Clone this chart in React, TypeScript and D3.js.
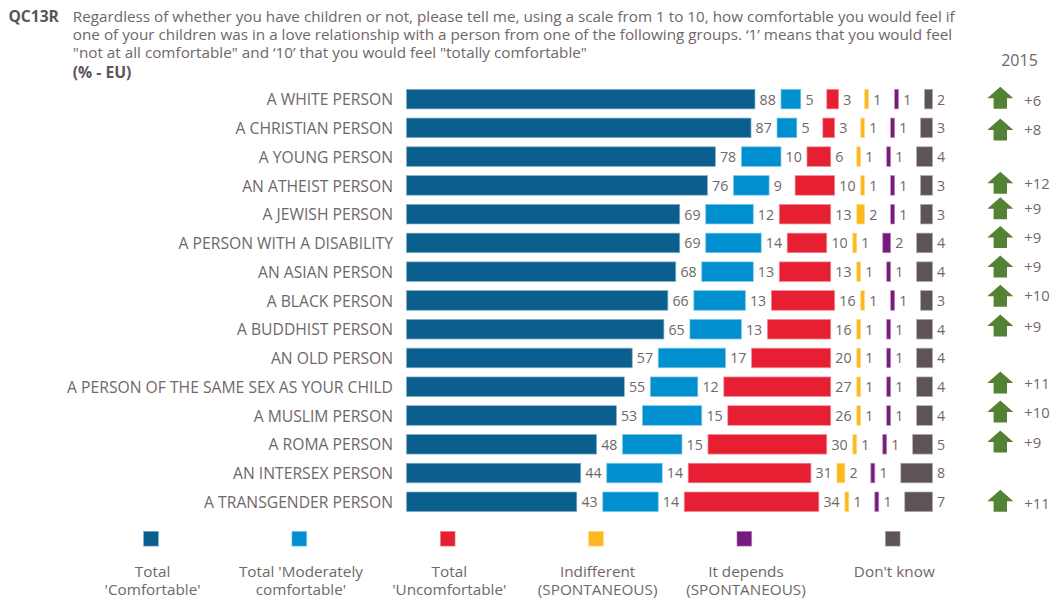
import React, { useMemo } from "react";
import * as d3 from "d3";

const categories = [
  "A WHITE PERSON", "A CHRISTIAN PERSON", "A YOUNG PERSON", "AN ATHEIST PERSON",
  "A JEWISH PERSON", "A PERSON WITH A DISABILITY", "AN ASIAN PERSON", "A BLACK PERSON",
  "A BUDDHIST PERSON", "AN OLD PERSON", "A PERSON OF THE SAME SEX AS YOUR CHILD",
  "A MUSLIM PERSON", "A ROMA PERSON", "AN INTERSEX PERSON", "A TRANSGENDER PERSON",
];
const comfortable = [88, 87, 78, 76, 69, 69, 68, 66, 65, 57, 55, 53, 48, 44, 43];
const moderately = [5, 5, 10, 9, 12, 14, 13, 13, 13, 17, 12, 15, 15, 14, 14];
const uncomfortable = [3, 3, 6, 10, 13, 10, 13, 16, 16, 20, 27, 26, 30, 31, 34];
const indifferent = [1, 1, 1, 1, 2, 1, 1, 1, 1, 1, 1, 1, 1, 2, 1];
const itDepends = [1, 1, 1, 1, 1, 2, 1, 1, 1, 1, 1, 1, 1, 1, 1];
const dontKnow = [2, 3, 4, 3, 3, 4, 4, 3, 4, 4, 4, 4, 5, 8, 7];
const change2015 = ["+6", "+8", "", "+12", "+9", "+9", "+9", "+10", "+9", "", "+11", "+10", "+9", "", "+11"];

// The trend column is set by hand in the layout, so it drifts slightly from the rows.
const arrowDrift = [-1.3, 1.6, 0, -2.6, -5.9, -5.8, -5.1, -4.6, -3.8, 0, -4.2, -3.9, -2.7, 0, -1];
const trendBaselineDrift = [7.2, 7.1, 0, 3.9, 0.1, -0.3, -0.1, 0.2, 2.4, 0, 2.4, 2.6, 3.8, 0, 7];

const seriesValues = [comfortable, moderately, uncomfortable, indifferent, itDepends, dontKnow];
const seriesColors = ["#0b5f8f", "#0090cf", "#e61f33", "#fdb81e", "#761b7c", "#5d5358"];
const legendLabels = [
  ["Total", "'Comfortable'"],
  ["Total 'Moderately", "comfortable'"],
  ["Total", "'Uncomfortable'"],
  ["Indifferent", "(SPONTANEOUS)"],
  ["It depends", "(SPONTANEOUS)"],
  ["Don't know"],
];
const questionLines = [
  "Regardless of whether you have children or not, please tell me, using a scale from 1 to 10, how comfortable you would feel if",
  "one of your children was in a love relationship with a person from one of the following groups. \u20181\u2019 means that you would feel",
  "\"not at all comfortable\" and \u201810\u2019 that you would feel \"totally comfortable\"",
];

const FONT = "'Open Sans', 'Noto Sans', sans-serif";
const INK = "#6f6769";
const GAP = 26;
const BAR_H = 19.6;

export default function App() {
  const x = useMemo(() => d3.scaleLinear().domain([0, 100]).range([0, 396]), []);
  const rowY = useMemo(
    () => d3.scaleLinear().domain([0, categories.length - 1]).range([99.1, 501.8]),
    []
  );
  const legendX = useMemo(
    () => d3.scalePoint<number>().domain(d3.range(6)).range([151, 892.7]),
    []
  );
  const x0 = 406.5;

  return (
    <svg width={1052} height={599} style={{ position: "absolute", left: 0, top: 0, background: "#fff" }} fontFamily={FONT}>
      <text x={8.4} y={22} fontSize={15.6} fontWeight={700} fill="#5d5358">QC13R</text>
      {questionLines.map((t, i) => (
        <text key={i} x={72.8} y={21.8 + i * 18.2} fontSize={15.28} fill={INK}>{t}</text>
      ))}
      <text x={72.8} y={77.5} fontSize={15.7} fontWeight={700} fill="#5d5358">(% - EU)</text>
      <text x={1019.5} y={66} fontSize={16} textAnchor="middle" fill={INK}>2015</text>

      {categories.map((c, i) => {
        let cursor = x0;
        const cy = rowY(i);
        return (
          <g key={c}>
            <text x={393} y={cy + 6.2} fontSize={15.7} textAnchor="end" fill={INK}>{c}</text>
            {seriesValues.map((vals, s) => {
              const w = x(vals[i]);
              const left = cursor;
              cursor += w + GAP;
              return (
                <g key={s}>
                  <rect
                    x={left}
                    y={cy - BAR_H / 2}
                    width={w}
                    height={BAR_H}
                    fill={seriesColors[s]}
                    stroke={d3.interpolateRgb(seriesColors[s], "#fff")(0.5)}
                    strokeWidth={0.7}
                  />
                  <text x={left + w + 4.6} y={cy + 5.4} fontSize={14.2} fill={INK}>{vals[i]}</text>
                </g>
              );
            })}
            {change2015[i] && (
              <g>
                <path
                  transform={`translate(1000.3,${cy + arrowDrift[i]})`}
                  d="M0,-11 L13,0.5 L6.7,0.5 L6.7,11 L-6.7,11 L-6.7,0.5 L-13,0.5 Z"
                  fill="#548235"
                />
                <text x={1024.3} y={cy + trendBaselineDrift[i]} fontSize={14.8} fill={INK}>{change2015[i]}</text>
              </g>
            )}
          </g>
        );
      })}

      {legendLabels.map((lines, i) => {
        const cx = legendX(i)!;
        return (
          <g key={i}>
            <rect
              x={cx - 7.4}
              y={531.3}
              width={14.8}
              height={14.8}
              fill={seriesColors[i]}
              stroke={d3.interpolateRgb(seriesColors[i], "#fff")(0.5)}
              strokeWidth={0.6}
            />
            {lines.map((l, j) => (
              <text key={j} x={cx + 1.6} y={577 + j * 18} fontSize={15.3} textAnchor="middle" fill={INK}>{l}</text>
            ))}
          </g>
        );
      })}
    </svg>
  );
}
